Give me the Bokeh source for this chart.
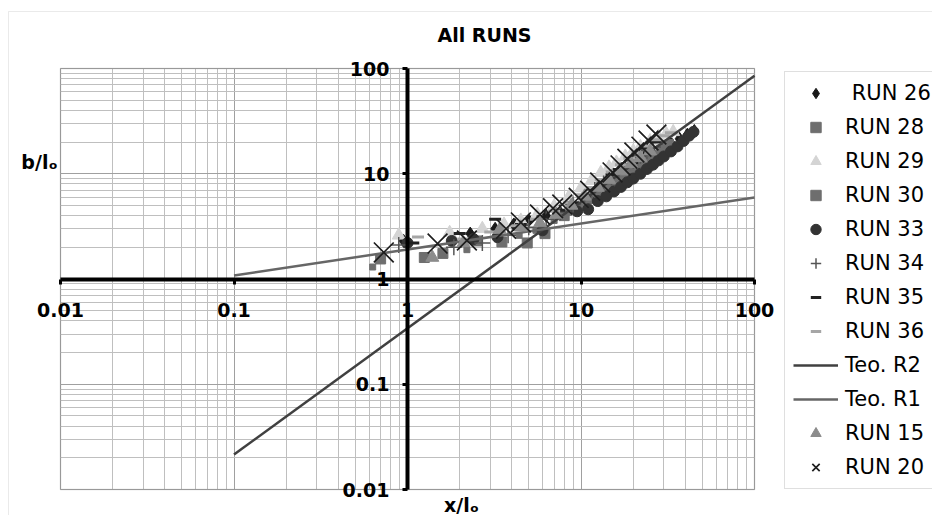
from bokeh.plotting import figure
from bokeh.models import Legend, LegendItem, Label, Range1d, CustomJSTickFormatter, BoxAnnotation, Grid
from bokeh.embed import file_html
from bokeh.resources import INLINE

# ---------------- data ----------------
run26_x = [0.95, 2.3, 3.2, 4.1, 5.0, 6.3, 7.5, 9.0, 10.5, 12, 13.5, 15, 17, 19, 21, 23, 26, 29, 33, 37, 41, 45]
run26_y = [2.3, 2.7, 3.0, 3.3, 3.6, 4.0, 4.4, 5.0, 5.6, 6.5, 7.3, 8.2, 9.3, 10.5, 11.8, 13.2, 15.0, 17.0, 19.5, 21.5, 23.5, 25.5]

run28_x = [0.70, 1.25, 1.6, 2.5, 3.5, 4.9, 6.2, 8.0, 9.5, 11, 12.5, 14, 16, 18, 20, 23, 26, 29, 32]
run28_y = [1.55, 1.6, 1.75, 2.3, 2.25, 2.2, 2.7, 4.0, 4.8, 5.8, 6.6, 7.4, 8.6, 9.8, 11.0, 12.8, 14.8, 16.8, 19.0]

run29_x = [0.89, 1.75, 2.7, 3.6, 4.5, 5.6, 7.0, 8.5, 10, 11.5, 13, 14.5, 16, 18, 20, 22, 25, 28, 31, 34]
run29_y = [2.6, 2.75, 3.0, 3.3, 3.6, 4.1, 4.9, 6.0, 7.3, 8.6, 10.2, 11.5, 12.8, 14.6, 16.4, 18.0, 20.5, 22.5, 24.0, 25.0]

run30_x = [0.63, 1.35, 2.2, 3.3, 4.4, 5.5, 7.0, 8.5, 10, 12, 14, 16, 18, 20, 23, 26]
run30_y = [1.3, 1.6, 1.9, 2.4, 2.6, 2.9, 3.6, 4.3, 5.0, 6.2, 7.4, 8.8, 10.0, 11.5, 13.6, 15.6]

run33_x = [1.0, 1.8, 2.4, 3.3, 6.0, 9.5, 11, 12.5, 14, 15.5, 17, 18.5, 20, 22, 24, 26, 28, 30, 33, 36, 39, 42, 44.5]
run33_y = [2.2, 2.3, 2.4, 2.5, 2.9, 4.4, 4.6, 5.5, 6.1, 6.8, 7.5, 8.3, 9.0, 10.0, 11.1, 12.2, 13.4, 14.6, 16.3, 18.2, 20.5, 23.0, 25.0]

run34_x = [0.89, 1.85, 2.7, 3.8, 5.0, 6.3, 7.6, 9.0, 10.5, 12, 13.5, 15, 16.5, 18, 20, 22, 24, 26]
run34_y = [2.1, 2.0, 2.2, 2.6, 3.1, 3.7, 4.3, 5.1, 6.0, 7.0, 8.1, 9.2, 10.4, 11.6, 13.2, 14.8, 16.5, 18.0]

run35_x = [1.08, 2.0, 3.2, 4.5, 6.0, 7.5, 9.0, 10.5, 12, 13.5, 15, 16.5, 18, 20, 22, 24, 27]
run35_y = [2.2, 2.7, 3.7, 3.3, 3.9, 4.5, 5.3, 6.2, 7.3, 8.5, 9.8, 11.0, 12.3, 14.0, 15.8, 17.5, 20.0]

run36_x = [1.15, 2.1, 3.0, 4.2, 5.5, 7.0, 8.5, 10, 11.5, 13, 15, 17, 19, 21, 24, 27, 30, 33]
run36_y = [2.5, 2.4, 2.8, 3.2, 3.7, 4.4, 5.3, 6.3, 7.4, 8.8, 10.4, 12.2, 14.0, 15.8, 18.4, 21.0, 23.0, 24.5]

teo_r2_x = [0.1, 100]
teo_r2_y = [0.0215, 85.5]

teo_r1_x = [0.1, 100]
teo_r1_y = [1.08, 5.95]

run15_x = [1.39, 2.1, 3.4, 4.5, 5.8, 7.2, 8.8, 10.5, 12.5, 14.5, 17, 19.5, 22, 25]
run15_y = [1.6, 2.2, 2.95, 3.1, 3.4, 4.1, 5.0, 6.1, 7.4, 8.8, 10.6, 12.4, 14.2, 16.4]

run20_x = [0.73, 1.49, 2.2, 3.7, 4.5, 5.8, 6.9, 7.8, 9.7, 11.3, 12.9, 15.2, 16.9, 18.5, 20.3, 22.3, 24.5, 27.2]
run20_y = [1.79, 2.17, 2.32, 3.0, 3.45, 4.1, 4.7, 5.1, 5.9, 6.9, 8.25, 10.3, 12.0, 13.9, 15.9, 18.1, 20.7, 23.6]

axis_min, axis_max = 0.01, 100
title_text = "All RUNS"
x_name = "x/lₒ"
y_name = "b/lₒ"

# ---------------- layout geometry (pixels) ----------------
W, H = 932, 515
PX_L, PX_R = 60, 754     # plot area left/right
PY_T, PY_B = 68, 489     # plot area top/bottom
xdec = (PX_R - PX_L) / 4.0
ydec = (PY_B - PY_T) / 4.0


def px2x(px):
    return 10 ** (-2 + (px - PX_L) / xdec)


def py2y(py):
    return 10 ** (2 - (py - PY_T) / ydec)


p = figure(width=W, height=H, x_axis_type="log", y_axis_type="log",
           x_range=Range1d(px2x(0), px2x(W)), y_range=Range1d(py2y(H), py2y(0)),
           output_backend="svg", toolbar_location=None,
           min_border_left=0, min_border_right=0, min_border_top=0, min_border_bottom=0)
p.background_fill_color = "white"
p.border_fill_color = "white"
p.outline_line_color = None

# outer chart border
p.add_layout(BoxAnnotation(left=px2x(8), right=px2x(W + 20), top=py2y(11), bottom=py2y(H + 20),
                           fill_color=None, line_color="#b8b8b8", line_width=1, level="underlay"))

has_cross = "cross_bounds" in Grid.properties()
for g in (p.xgrid[0], p.ygrid[0]):
    g.grid_line_color = "#a0a0a0"
    g.grid_line_width = 1
    g.minor_grid_line_color = "#bfbfbf"
    g.minor_grid_line_width = 1
    g.bounds = (axis_min, axis_max)
    if has_cross:
        g.cross_bounds = (axis_min, axis_max)

# plot-area border
p.add_layout(BoxAnnotation(left=axis_min, right=axis_max, bottom=axis_min, top=axis_max,
                           fill_color=None, line_color="#8c8c8c", line_width=1.5, level="underlay"))

fmt = CustomJSTickFormatter(code="return String(parseFloat(tick.toPrecision(3)));")
for ax in (p.xaxis[0], p.yaxis[0]):
    ax.fixed_location = 1
    ax.bounds = (axis_min, axis_max)
    ax.axis_line_width = 4
    ax.axis_line_color = "black"
    ax.major_tick_line_width = 3
    ax.major_tick_line_color = "black"
    ax.major_tick_out = 5
    ax.major_tick_in = 0
    ax.minor_tick_line_color = None
    ax.major_label_text_font = "DejaVu Sans"
    ax.major_label_text_font_style = "bold"
    ax.major_label_text_font_size = "19px"
    ax.major_label_text_color = "black"
    ax.formatter = fmt
p.xaxis[0].major_label_standoff = 19
p.yaxis[0].major_label_standoff = 13

# ---------------- series ----------------
r26 = p.scatter(run26_x, run26_y, marker="diamond", size=13, color="#1a1a1a")
r28 = p.scatter(run28_x, run28_y, marker="square", size=10, color="#6e6e6e")
r29 = p.scatter(run29_x, run29_y, marker="triangle", size=13, color="#d4d4d4")
r30 = p.scatter(run30_x, run30_y, marker="square", size=6, color="#6e6e6e")
r33 = p.scatter(run33_x, run33_y, marker="circle", size=11, color="#333333")
r34 = p.scatter(run34_x, run34_y, marker="cross", size=16, line_width=1.5, line_color="#555555")
r35 = p.scatter(run35_x, run35_y, marker="dash", size=12, line_width=3, line_color="#222222")
r36 = p.scatter(run36_x, run36_y, marker="dash", size=12, line_width=3, line_color="#a6a6a6")
rt2 = p.line(teo_r2_x, teo_r2_y, line_width=2.5, line_color="#404040")
rt1 = p.line(teo_r1_x, teo_r1_y, line_width=2.5, line_color="#666666")
r15 = p.scatter(run15_x, run15_y, marker="triangle", size=13, color="#8c8c8c")
r20 = p.scatter(run20_x, run20_y, marker="x", size=28, line_width=1.7, line_color="#1e1e1e")

items = [
    LegendItem(label=" RUN 26", renderers=[r26]),
    LegendItem(label="RUN 28", renderers=[r28]),
    LegendItem(label="RUN 29", renderers=[r29]),
    LegendItem(label="RUN 30", renderers=[r30]),
    LegendItem(label="RUN 33", renderers=[r33]),
    LegendItem(label="RUN 34", renderers=[r34]),
    LegendItem(label="RUN 35", renderers=[r35]),
    LegendItem(label="RUN 36", renderers=[r36]),
    LegendItem(label="Teo. R2", renderers=[rt2]),
    LegendItem(label="Teo. R1", renderers=[rt1]),
    LegendItem(label="RUN 15", renderers=[r15]),
    LegendItem(label="RUN 20", renderers=[r20]),
]
legend = Legend(items=items, location=(784, H - 489),
                label_text_font="DejaVu Sans", label_text_font_size="21px",
                label_text_color="black",
                glyph_width=45, glyph_height=26, label_height=26,
                spacing=8, padding=8, margin=0, label_standoff=7,
                border_line_color="#bfbfbf", border_line_width=1,
                background_fill_color="white", background_fill_alpha=1.0)
p.add_layout(legend, "center")

# ---------------- texts ----------------
def add_text(txt, px, py, size="19px"):
    p.add_layout(Label(x=px, y=H - py, x_units="screen", y_units="screen", text=txt,
                       text_font="DejaVu Sans", text_font_style="bold", text_font_size=size,
                       text_align="center", text_baseline="middle", text_color="black"))


add_text(title_text, 484, 34)
add_text(y_name, 39, 161)
add_text(x_name, 461, 504)

open("out.html", "w").write(file_html(p, INLINE))
